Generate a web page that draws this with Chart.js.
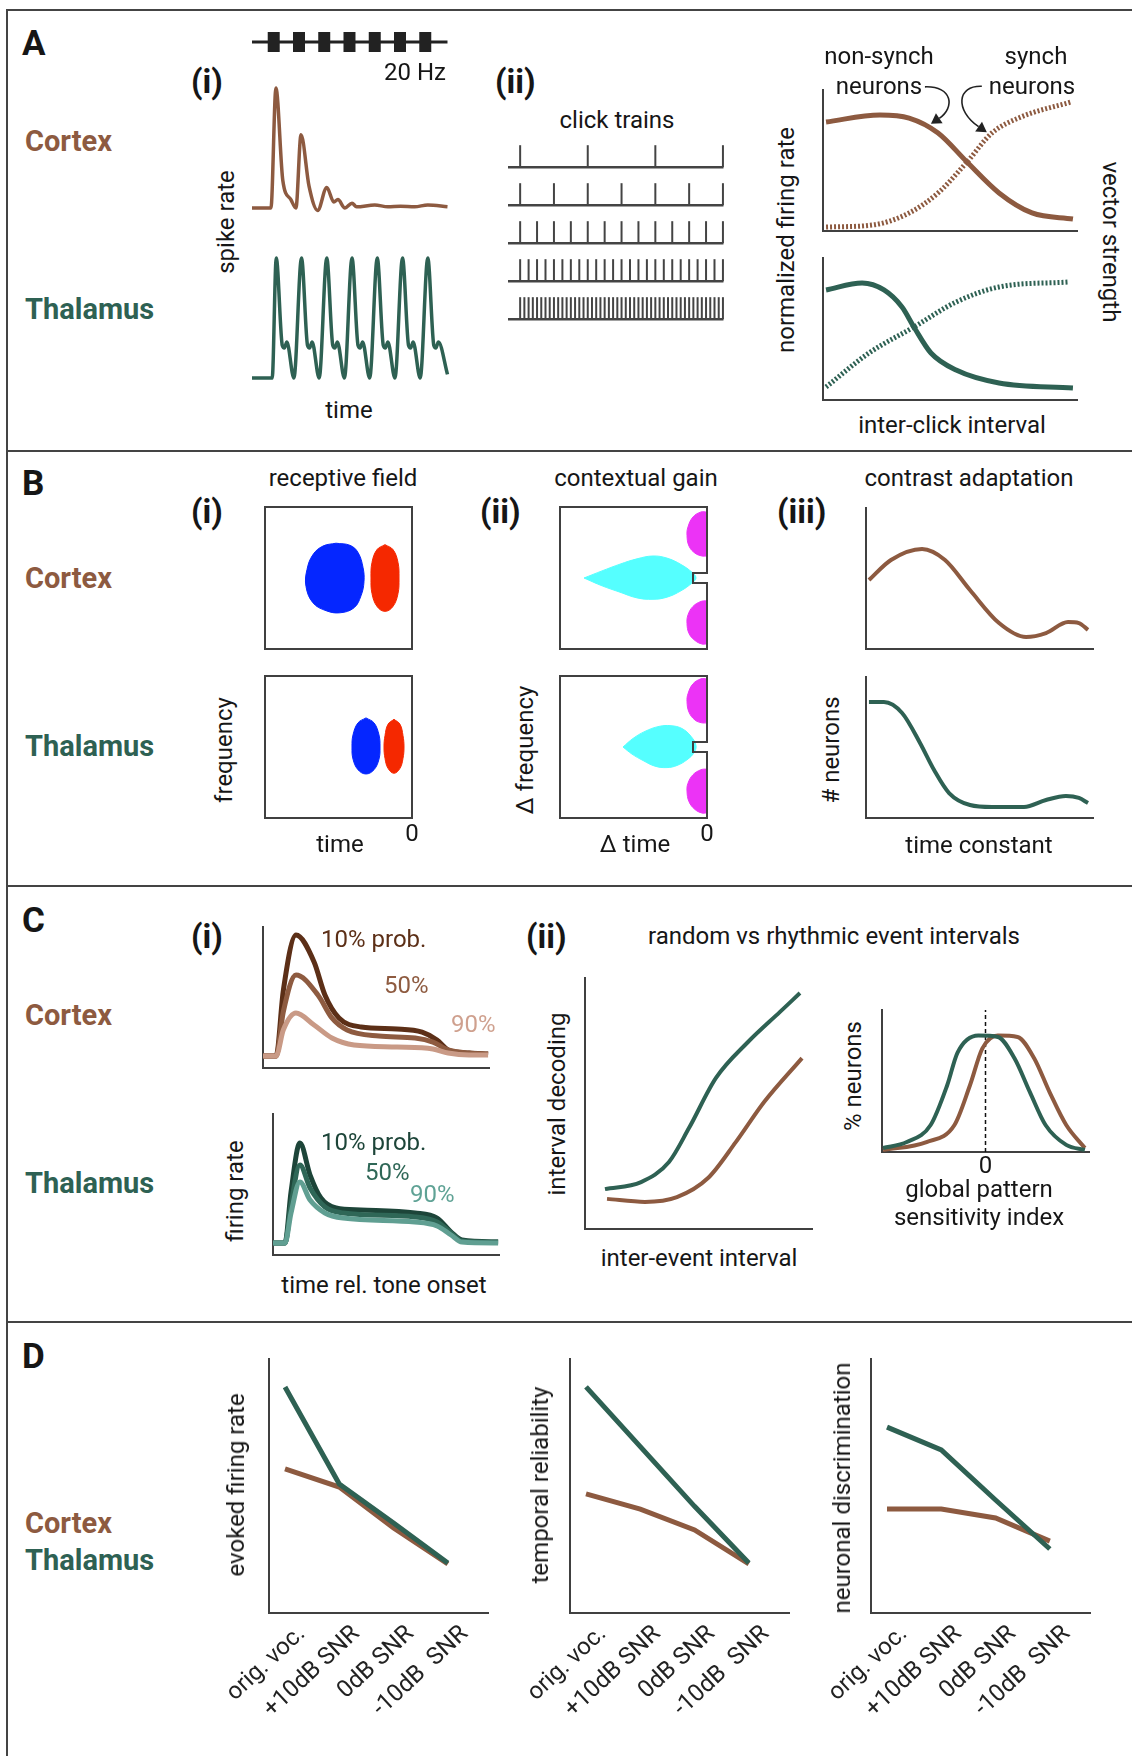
<!DOCTYPE html>
<html>
<head>
<meta charset="utf-8">
<title>Cortex vs thalamus</title>
<script src="https://cdn.jsdelivr.net/npm/chart.js@4.4.1/dist/chart.umd.min.js"></script>
<style>
  body { margin: 0; background: #fff; }
  #page { position: relative; width: 1132px; height: 1756px; overflow: hidden; background: #fff;
          font-family: Roboto, "Noto Sans", sans-serif; color: #161616; }
  #page canvas { position: absolute; }
  .t { position: absolute; white-space: pre; line-height: 1; }
  .rule { position: absolute; background: #444; }
</style>
</head>
<body>
<div id="page"></div>
<script>
// ---------- values ----------

// A(i) 20 Hz clicks (ms) and normalised spike-rate traces
const clickTimes = [43, 93, 143, 193, 243, 293, 343];
const ctxSpikeT = [0, 37.5, 47.4, 61, 77, 87, 97, 113, 130, 148, 162, 170, 184, 198, 207, 243, 269, 294, 322, 348, 387];
const ctxSpikeR = [0, 0, 1.0, 0.23, 0.07, 0, 0.61, 0.18, -0.02, 0.17, 0.05, 0.07, 0, 0.04, 0.01, 0.025, 0.01, 0.015, 0.01, 0.025, 0.01];
const thalSpikeT = [0, 40, 48, 60, 64, 69, 83, 98, 110, 114, 119, 133, 148, 160, 164, 169, 183, 198, 210, 214, 219, 233,
                    248, 260, 264, 269, 283, 298, 310, 314, 319, 333, 348, 360, 364, 369, 387];
const thalSpikeR = [0, 0, 1, .27, .25, .30, 0, 1, .27, .25, .30, 0, 1, .27, .25, .30, 0, 1, .27, .25, .30, 0,
                    1, .27, .25, .30, 0, 1, .27, .25, .30, 0, 1, .27, .25, .30, .03];

// A(ii) inter-click interval of each click train (ms)
const trainICI = [64, 32, 16, 8, 4];

// A(iii) firing rate / vector strength vs inter-click interval
const ctxNonSynch = [[0.012, 0.773], [0.224, 0.823], [0.339, 0.801], [0.453, 0.695], [0.567, 0.489], [0.693, 0.270], [0.823, 0.128], [0.984, 0.085]];
const ctxSynch = [[0.012, 0.028], [0.197, 0.043], [0.339, 0.128], [0.453, 0.270], [0.567, 0.489], [0.665, 0.695], [0.780, 0.809], [0.976, 0.915]];
const thalNonSynch = [[0.012, 0.775], [0.154, 0.824], [0.240, 0.775], [0.311, 0.655], [0.358, 0.514], [0.425, 0.331], [0.524, 0.211], [0.693, 0.120], [0.984, 0.085]];
const thalSynch = [[0.012, 0.092], [0.181, 0.331], [0.358, 0.514], [0.524, 0.690], [0.693, 0.796], [0.965, 0.831]];

// B(i) receptive-field lobes (time ms before 0, frequency in oct)
const rfCtxOn = [[-76, 0.49], [-62, 0.46], [-54, 0.36], [-49, 0.15], [-48, -0.05], [-51, -0.25], [-58, -0.42], [-72, -0.49], [-86, -0.46], [-99, -0.35], [-106, -0.12], [-105, 0.12], [-99, 0.33], [-89, 0.45], [-76, 0.49]];
const rfCtxOff = [[-27, 0.47], [-19, 0.40], [-14, 0.22], [-13, 0], [-14, -0.22], [-19, -0.40], [-27, -0.47], [-35, -0.40], [-40, -0.22], [-41, 0], [-40, 0.22], [-35, 0.40], [-27, 0.47]];
const rfThalOn = [[-46, 0.41], [-38, 0.34], [-33, 0.17], [-32, 0], [-33, -0.17], [-38, -0.32], [-46, -0.38], [-54, -0.32], [-59, -0.17], [-60, 0], [-59, 0.17], [-54, 0.34], [-46, 0.41]];
const rfThalOff = [[-18, 0.39], [-12, 0.32], [-9, 0.16], [-8, 0], [-9, -0.16], [-12, -0.30], [-18, -0.37], [-24, -0.30], [-27, -0.16], [-28, 0], [-27, 0.16], [-24, 0.32], [-18, 0.39]];

// B(ii) contextual gain field (delta time, delta frequency)
const cgCtxCentre = [[-123, 0], [-105, 0.1], [-87, 0.195], [-70, 0.27], [-54, 0.31], [-40, 0.28], [-26, 0.19], [-15, 0.08], [-11, 0], [-15, -0.07], [-26, -0.18], [-40, -0.27], [-54, -0.30], [-70, -0.28], [-87, -0.20], [-105, -0.11], [-123, 0]];
const cgCtxUp = [[0, 0.93], [-6, 0.93], [-14, 0.86], [-19, 0.72], [-20, 0.60], [-18, 0.45], [-12, 0.35], [-5, 0.31], [0, 0.31]];
const cgCtxDown = [[0, -0.32], [-6, -0.33], [-14, -0.40], [-19, -0.52], [-20, -0.64], [-18, -0.78], [-12, -0.88], [-5, -0.93], [0, -0.93]];
const cgThalCentre = [[-84, 0], [-74, 0.12], [-62, 0.22], [-48, 0.29], [-36, 0.30], [-25, 0.26], [-16, 0.15], [-11, 0.02], [-13, -0.08], [-20, -0.18], [-30, -0.26], [-40, -0.29], [-52, -0.27], [-64, -0.19], [-75, -0.10], [-84, 0]];
const cgThalUp = [[0, 0.96], [-6, 0.96], [-14, 0.89], [-19, 0.75], [-20, 0.64], [-18, 0.49], [-12, 0.38], [-5, 0.34], [0, 0.34]];
const cgThalDown = [[0, -0.31], [-6, -0.32], [-14, -0.39], [-19, -0.51], [-20, -0.62], [-18, -0.77], [-12, -0.88], [-5, -0.93], [0, -0.93]];

// B(iii) distribution of adaptation time constants
const tauCtx = [[0.013, 0.489], [0.110, 0.631], [0.247, 0.709], [0.348, 0.631], [0.458, 0.418], [0.586, 0.184], [0.705, 0.085], [0.793, 0.113], [0.890, 0.191], [0.938, 0.184], [0.978, 0.135]];
const tauThal = [[0.013, 0.823], [0.079, 0.823], [0.159, 0.745], [0.238, 0.532], [0.300, 0.340], [0.366, 0.177], [0.458, 0.092], [0.555, 0.078], [0.696, 0.078], [0.793, 0.128], [0.881, 0.156], [0.938, 0.142], [0.978, 0.106]];

// C(i) responses for 10 / 50 / 90 % tone probability
const psthCtx10 = [[0, 0.085], [0.058, 0.085], [0.09, 0.55], [0.146, 0.943], [0.226, 0.752], [0.274, 0.518], [0.336, 0.355], [0.434, 0.291], [0.593, 0.277], [0.704, 0.255], [0.770, 0.199], [0.819, 0.128], [0.912, 0.106], [0.996, 0.099]];
const psthCtx50 = [[0, 0.085], [0.058, 0.085], [0.09, 0.40], [0.146, 0.66], [0.243, 0.518], [0.305, 0.355], [0.372, 0.27], [0.513, 0.227], [0.673, 0.213], [0.752, 0.184], [0.819, 0.128], [0.912, 0.106], [0.996, 0.099]];
const psthCtx90 = [[0, 0.085], [0.058, 0.085], [0.09, 0.27], [0.146, 0.39], [0.226, 0.305], [0.305, 0.213], [0.403, 0.163], [0.593, 0.149], [0.752, 0.135], [0.819, 0.106], [0.912, 0.092], [0.996, 0.092]];
const psthThal10 = [[0, 0.085], [0.053, 0.085], [0.08, 0.45], [0.119, 0.794], [0.164, 0.567], [0.212, 0.404], [0.279, 0.333], [0.389, 0.319], [0.628, 0.298], [0.726, 0.262], [0.788, 0.163], [0.836, 0.106], [0.996, 0.092]];
const psthThal50 = [[0, 0.085], [0.053, 0.085], [0.08, 0.36], [0.119, 0.638], [0.164, 0.475], [0.230, 0.340], [0.310, 0.298], [0.628, 0.27], [0.726, 0.234], [0.788, 0.156], [0.836, 0.100], [0.996, 0.092]];
const psthThal90 = [[0, 0.085], [0.053, 0.085], [0.08, 0.30], [0.119, 0.518], [0.164, 0.39], [0.230, 0.298], [0.310, 0.262], [0.628, 0.234], [0.726, 0.206], [0.788, 0.142], [0.836, 0.092], [0.996, 0.085]];

// C(ii) interval decoding and global pattern sensitivity index
const decodeThal = [[0.088, 0.159], [0.247, 0.187], [0.370, 0.267], [0.458, 0.402], [0.577, 0.602], [0.718, 0.745], [0.859, 0.865], [0.947, 0.940]];
const decodeCtx = [[0.097, 0.120], [0.264, 0.108], [0.405, 0.127], [0.542, 0.203], [0.665, 0.347], [0.789, 0.506], [0.956, 0.681]];
const gpsiThal = [[-0.99, 0.028], [-0.76, 0.07], [-0.53, 0.19], [-0.37, 0.47], [-0.27, 0.70], [-0.07, 0.82], [0.12, 0.81], [0.28, 0.66], [0.43, 0.42], [0.58, 0.19], [0.78, 0.05], [0.96, 0.014]];
const gpsiCtx = [[-0.99, 0.014], [-0.57, 0.07], [-0.30, 0.19], [-0.15, 0.47], [-0.03, 0.73], [0.12, 0.82], [0.31, 0.81], [0.47, 0.66], [0.62, 0.42], [0.78, 0.19], [0.96, 0.028]];

// D vocalisations in noise
const snrCats = ['orig. voc.', '+10dB SNR', '0dB SNR', '-10dB  SNR'];
const rateThal = [0.89, 0.508, 0.354, 0.197];
const rateCtx = [0.567, 0.496, 0.335, 0.193];
const relThal = [0.89, 0.655, 0.42, 0.197];
const relCtx = [0.469, 0.409, 0.327, 0.193];
const discThal = [0.732, 0.642, 0.445, 0.252];
const discCtx = [0.409, 0.409, 0.374, 0.283];

// ---------- drawing ----------
const page = document.getElementById('page');

const BROWN = '#8d5a40', GREEN = '#2e6153', AXIS = '#404040', INK = '#161616';
const CTX_SHADES = ['#5c2f17', '#8e5b40', '#c99a86'];
const THAL_SHADES = ['#1d4539', '#2f6757', '#609f92'];
const BLUE = '#0526ff', RED = '#f52800', CYAN = '#55ffff', MAGENTA = '#ec33f6';

Chart.defaults.font.family = 'Roboto';
Chart.defaults.color = INK;
Chart.defaults.animation = false;
Chart.defaults.responsive = false;
Chart.defaults.events = [];
Chart.defaults.plugins.legend.display = false;
Chart.defaults.plugins.tooltip.enabled = false;
Chart.defaults.elements.point.radius = 0;

const pairs = a => a.map(([x, y]) => ({x, y}));
const zip = (xs, ys) => xs.map((x, i) => ({x, y: ys[i]}));
const byIndex = ys => ys.map((y, i) => ({x: i, y}));

function rule(x, y, w, h) {
  const d = document.createElement('div');
  d.className = 'rule';
  Object.assign(d.style, {left: x + 'px', top: y + 'px', width: w + 'px', height: h + 'px'});
  page.appendChild(d);
}

function txt(s, x, y, o = {}) {
  const d = document.createElement('div');
  d.className = 't';
  d.textContent = s;
  const size = o.size || 24;
  d.style.fontSize = size + 'px';
  d.style.fontWeight = o.bold ? '700' : '400';
  d.style.color = o.color || INK;
  d.style.left = x + 'px';
  if (o.rot) {
    d.style.top = y + 'px';
    d.style.transform = 'translate(-50%,-50%) rotate(' + o.rot + 'deg)';
  } else {
    d.style.top = (y - 0.842 * size) + 'px';
    const shift = {c: '-50%', r: '-100%'}[o.align];
    if (shift) d.style.transform = 'translateX(' + shift + ')';
  }
  page.appendChild(d);
}

// scales take no room of their own; an x scale with labels gets a fixed band (labH)
function fitter(labH) {
  return s => {
    if (s.isHorizontal()) s.height = labH || 0; else s.width = 0;
    s.paddingLeft = s.paddingRight = s.paddingTop = s.paddingBottom = 0;
  };
}

function ax(min, max, extra = {}, labH = 0) {
  return Object.assign({
    type: 'linear', min, max, display: true,
    grid: {display: false, drawTicks: false},
    border: {display: true, color: AXIS, width: 2},
    ticks: {display: false},
    afterFit: fitter(labH)
  }, extra);
}
const off = (min, max) => ({type: 'linear', min, max, display: false});

function zeroTick(pad) {
  return {
    ticks: {display: true, font: {size: 24}, color: INK, padding: pad, autoSkip: false, maxRotation: 0, callback: v => String(v)},
    afterBuildTicks: s => { s.ticks = [{value: 0}]; }
  };
}

const LAB0 = 34;   // label band under axes that carry a "0"
const LABD = 130;  // label band for the rotated SNR labels

function boxScales(withZero, rightEdge) {
  const s = {
    x: withZero ? ax(-147, 0, zeroTick(3), LAB0) : ax(-147, 0),
    y: ax(-1, 1),
    xTop: ax(0, 1, {position: 'top'})
  };
  if (rightEdge) s.yRight = ax(0, 1, {position: 'right'});
  return s;
}

function curve(data, color, width, extra = {}) {
  return Object.assign({data, showLine: true, borderColor: color, borderWidth: width, pointRadius: 0,
    fill: false, cubicInterpolationMode: 'monotone', clip: false}, extra);
}
function poly(data, color, width) {
  return curve(data, color, width, {cubicInterpolationMode: 'default', tension: 0, borderJoinStyle: 'miter'});
}
function blob(shape, color) {
  return {data: pairs(shape), showLine: true, fill: 'shape', tension: 0.4, borderColor: color,
    borderWidth: 1, backgroundColor: color, pointRadius: 0};
}

const arrowPlugin = {
  id: 'arrows',
  afterDatasetsDraw(chart, args, opts) {
    const {ctx, scales: {x, y}} = chart;
    (opts.list || []).forEach(a => {
      const tx = x.getPixelForValue(a.at[0]), ty = y.getPixelForValue(a.at[1]);
      const ang = Math.atan2(-a.c2[1], -a.c2[0]);
      const bx = tx - Math.cos(ang) * 10, by = ty - Math.sin(ang) * 10;
      ctx.save();
      ctx.strokeStyle = '#222';
      ctx.fillStyle = '#222';
      ctx.lineWidth = 1.6;
      ctx.beginPath();
      ctx.moveTo(tx + a.tail[0], ty + a.tail[1]);
      ctx.bezierCurveTo(tx + a.c1[0], ty + a.c1[1], tx + a.c2[0], ty + a.c2[1], bx, by);
      ctx.stroke();
      ctx.beginPath();
      ctx.moveTo(tx, ty);
      ctx.lineTo(bx + Math.sin(ang) * 6, by - Math.cos(ang) * 6);
      ctx.lineTo(bx - Math.sin(ang) * 6, by + Math.cos(ang) * 6);
      ctx.closePath();
      ctx.fill();
      ctx.restore();
    });
  }
};

// area = plot area in page pixels, pad = canvas margin round it, pad.h = part of the bottom margin used by x labels
function panel(area, pad, datasets, scales, arrows) {
  const c = document.createElement('canvas');
  c.width = area.w + pad.l + pad.r;
  c.height = area.h + pad.t + pad.b;
  c.style.left = (area.x - pad.l) + 'px';
  c.style.top = (area.y - pad.t) + 'px';
  page.appendChild(c);
  return new Chart(c, {
    type: 'scatter',
    data: {datasets},
    options: {
      devicePixelRatio: 1,
      layout: {autoPadding: false, padding: {top: pad.t, right: pad.r, bottom: pad.b - pad.h, left: pad.l}},
      scales,
      plugins: arrows ? {arrows: {list: arrows}} : {}
    },
    plugins: arrows ? [arrowPlugin] : []
  });
}

const P = (t, r, b, l, h = 0) => ({t, r, b, l, h});

// frame
rule(6, 9, 1126, 2);
rule(6, 9, 2, 1747);
rule(6, 450, 1126, 2);
rule(6, 885, 1126, 2);
rule(6, 1321, 1126, 2);

// ----- A(i)
panel({x: 252, y: 32, w: 197, h: 20}, P(4, 12, 4, 8), [
  {data: clickTimes.map(t => ({x: t, y: 0})), pointStyle: 'line', pointRotation: 90, pointRadius: 10,
   borderWidth: 12, borderColor: '#222', clip: false},
  curve([{x: 0, y: 0}, {x: 387, y: 0}], '#222', 3, {cubicInterpolationMode: 'default'})
], {x: off(0, 390), y: off(-1, 1)});

panel({x: 252, y: 88, w: 197, h: 120}, P(10, 10, 10, 10),
  [curve(zip(ctxSpikeT, ctxSpikeR), BROWN, 3.5)], {x: off(0, 390), y: off(0, 1)});
panel({x: 252, y: 258, w: 197, h: 120}, P(10, 10, 10, 10),
  [curve(zip(thalSpikeT, thalSpikeR), GREEN, 3.5)], {x: off(0, 390), y: off(0, 1)});

// ----- A(ii)
const trainSets = [];
trainICI.forEach((ici, r) => {
  const base = 4 - r;
  const clicks = [];
  for (let t = 0; t <= 192; t += ici) clicks.push({x: t, y: base + 0.29});
  trainSets.push({data: clicks, pointStyle: 'line', pointRotation: 90, pointRadius: 11,
    borderWidth: 2, borderColor: '#444', clip: false});
  trainSets.push(curve([{x: -11.5, y: base}, {x: 192.5, y: base}], '#444', 2.5, {cubicInterpolationMode: 'default'}));
});
panel({x: 508, y: 141, w: 216, h: 182}, P(6, 6, 6, 6), trainSets, {x: off(-11.5, 193), y: off(-0.1, 4.69)});

// ----- A(iii)
panel({x: 823, y: 90, w: 254, h: 141}, P(50, 10, 6, 6), [
  curve(pairs(ctxNonSynch), BROWN, 5),
  curve(pairs(ctxSynch), BROWN, 5, {borderDash: [2, 2]})
], {x: ax(0, 1), y: ax(0, 1)}, [
  {at: [0.425, 0.76], tail: [-6, -37], c1: [22, -38], c2: [24, -16]},
  {at: [0.645, 0.70], tail: [-5, -46], c1: [-30, -47], c2: [-32, -22]}
]);
panel({x: 823, y: 258, w: 254, h: 142}, P(6, 10, 6, 6), [
  curve(pairs(thalNonSynch), GREEN, 5),
  curve(pairs(thalSynch), GREEN, 5, {borderDash: [2, 2]})
], {x: ax(0, 1), y: ax(0, 1)});

// ----- B(i)
panel({x: 265, y: 507, w: 147, h: 142}, P(6, 14, 6, 6),
  [blob(rfCtxOn, BLUE), blob(rfCtxOff, RED)], boxScales(false, true));
panel({x: 265, y: 676, w: 147, h: 142}, P(6, 14, 40, 6, LAB0),
  [blob(rfThalOn, BLUE), blob(rfThalOff, RED)], boxScales(true, true));

// ----- B(ii)  right edge carries a small notch at (0, 0)
const notch = [{x: 0, y: 1}, {x: 0, y: 0.07}, {x: -14, y: 0.07}, {x: -14, y: -0.07}, {x: 0, y: -0.07}, {x: 0, y: -1}];
panel({x: 560, y: 507, w: 147, h: 142}, P(6, 14, 6, 6), [
  poly(notch, AXIS, 2),
  blob(cgCtxCentre, CYAN), blob(cgCtxUp, MAGENTA), blob(cgCtxDown, MAGENTA)
], boxScales(false, false));
panel({x: 560, y: 676, w: 147, h: 142}, P(6, 14, 40, 6, LAB0), [
  poly(notch, AXIS, 2),
  blob(cgThalCentre, CYAN), blob(cgThalUp, MAGENTA), blob(cgThalDown, MAGENTA)
], boxScales(true, false));

// ----- B(iii)
panel({x: 866, y: 508, w: 227, h: 141}, P(6, 10, 6, 6),
  [curve(pairs(tauCtx), BROWN, 4)], {x: ax(0, 1), y: ax(0, 1)});
panel({x: 866, y: 677, w: 227, h: 141}, P(6, 10, 6, 6),
  [curve(pairs(tauThal), GREEN, 4)], {x: ax(0, 1), y: ax(0, 1)});

// ----- C(i)
panel({x: 263, y: 927, w: 226, h: 141}, P(6, 10, 6, 6), [
  curve(pairs(psthCtx90), CTX_SHADES[2], 5),
  curve(pairs(psthCtx50), CTX_SHADES[1], 5),
  curve(pairs(psthCtx10), CTX_SHADES[0], 5)
], {x: ax(0, 1), y: ax(0, 1)});
panel({x: 273, y: 1114, w: 226, h: 141}, P(6, 10, 6, 6), [
  curve(pairs(psthThal90), THAL_SHADES[2], 5),
  curve(pairs(psthThal50), THAL_SHADES[1], 5),
  curve(pairs(psthThal10), THAL_SHADES[0], 5)
], {x: ax(0, 1), y: ax(0, 1)});

// ----- C(ii)
panel({x: 585, y: 978, w: 227, h: 251}, P(6, 10, 6, 6), [
  curve(pairs(decodeThal), GREEN, 4),
  curve(pairs(decodeCtx), BROWN, 4)
], {x: ax(0, 1), y: ax(0, 1)});
panel({x: 882, y: 1010, w: 207, h: 142}, P(6, 10, 40, 6, LAB0), [
  curve(pairs(gpsiThal), GREEN, 4),
  curve(pairs(gpsiCtx), BROWN, 4),
  curve([{x: 0, y: 0}, {x: 0, y: 1}], '#111', 1.5, {cubicInterpolationMode: 'default', borderDash: [4, 3]})
], {x: ax(-1, 1, zeroTick(1), LAB0), y: ax(0, 1)});

// ----- D
function snrPanel(x, thal, ctx) {
  return panel({x, y: 1359, w: 219, h: 254}, P(10, 20, LABD, 70, LABD), [
    poly(byIndex(thal), GREEN, 5),
    poly(byIndex(ctx), BROWN, 5)
  ], {
    x: ax(-0.295, 3.74, {
      ticks: {display: true, font: {size: 24}, color: '#222', minRotation: 43, maxRotation: 43,
              padding: 7, labelOffset: 17, autoSkip: false, callback: v => snrCats[v]},
      afterBuildTicks: s => { s.ticks = snrCats.map((c, i) => ({value: i})); }
    }, LABD),
    y: ax(0, 1)
  });
}
snrPanel(269, rateThal, rateCtx);
snrPanel(570, relThal, relCtx);
snrPanel(871, discThal, discCtx);

// ---------- text ----------
[['A', 55], ['B', 495], ['C', 932], ['D', 1368]].forEach(([s, y]) => txt(s, 22, y, {size: 35, bold: true}));
[[191, 93], [495, 93], [191, 523], [480, 523], [777, 523], [191, 948], [526, 948]].forEach(([x, y], i) =>
  txt(['(i)', '(ii)', '(i)', '(ii)', '(iii)', '(i)', '(ii)'][i], x, y, {size: 33, bold: true}));
[[151, 319], [588, 756], [1025, 1193], [1533, 1570]].forEach(([c, t]) => {
  txt('Cortex', 25, c, {size: 29, bold: true, color: BROWN});
  txt('Thalamus', 25, t, {size: 29, bold: true, color: GREEN});
});

txt('20 Hz', 446, 80, {align: 'r'});
txt('spike rate', 226, 222, {rot: -90});
txt('time', 349, 418, {align: 'c'});
txt('click trains', 617, 128, {align: 'c'});
txt('non-synch', 879, 64, {align: 'c'});
txt('neurons', 879, 94, {align: 'c'});
txt('synch', 1036, 64, {align: 'c'});
txt('neurons', 1032, 94, {align: 'c'});
txt('normalized firing rate', 786, 240, {rot: -90});
txt('vector strength', 1111, 242, {rot: 90});
txt('inter-click interval', 952, 433, {align: 'c'});

txt('receptive field', 343, 486, {align: 'c'});
txt('frequency', 224, 750, {rot: -90});
txt('time', 340, 852, {align: 'c'});
txt('contextual gain', 636, 486, {align: 'c'});
txt('Δ frequency', 525, 750, {rot: -90});
txt('Δ time', 635, 852, {align: 'c'});
txt('contrast adaptation', 969, 486, {align: 'c'});
txt('# neurons', 831, 750, {rot: -90});
txt('time constant', 979, 853, {align: 'c'});

txt('10% prob.', 321, 947, {color: CTX_SHADES[0]});
txt('50%', 384, 993, {color: CTX_SHADES[1]});
txt('90%', 451, 1032, {color: '#cfa08e'});
txt('10% prob.', 321, 1150, {color: THAL_SHADES[0]});
txt('50%', 365, 1180, {color: THAL_SHADES[1]});
txt('90%', 410, 1202, {color: '#5fa295'});
txt('firing rate', 235, 1191, {rot: -90});
txt('time rel. tone onset', 384, 1293, {align: 'c'});
txt('random vs rhythmic event intervals', 834, 944, {align: 'c'});
txt('interval decoding', 557, 1104, {rot: -90});
txt('inter-event interval', 699, 1266, {align: 'c'});
txt('% neurons', 853, 1076, {rot: -90});
txt('global pattern', 979, 1197, {align: 'c'});
txt('sensitivity index', 979, 1225, {align: 'c'});

txt('evoked firing rate', 236, 1485, {rot: -90});
txt('temporal reliability', 540, 1485, {rot: -90});
txt('neuronal discrimination', 842, 1488, {rot: -90});
</script>
</body>
</html>
